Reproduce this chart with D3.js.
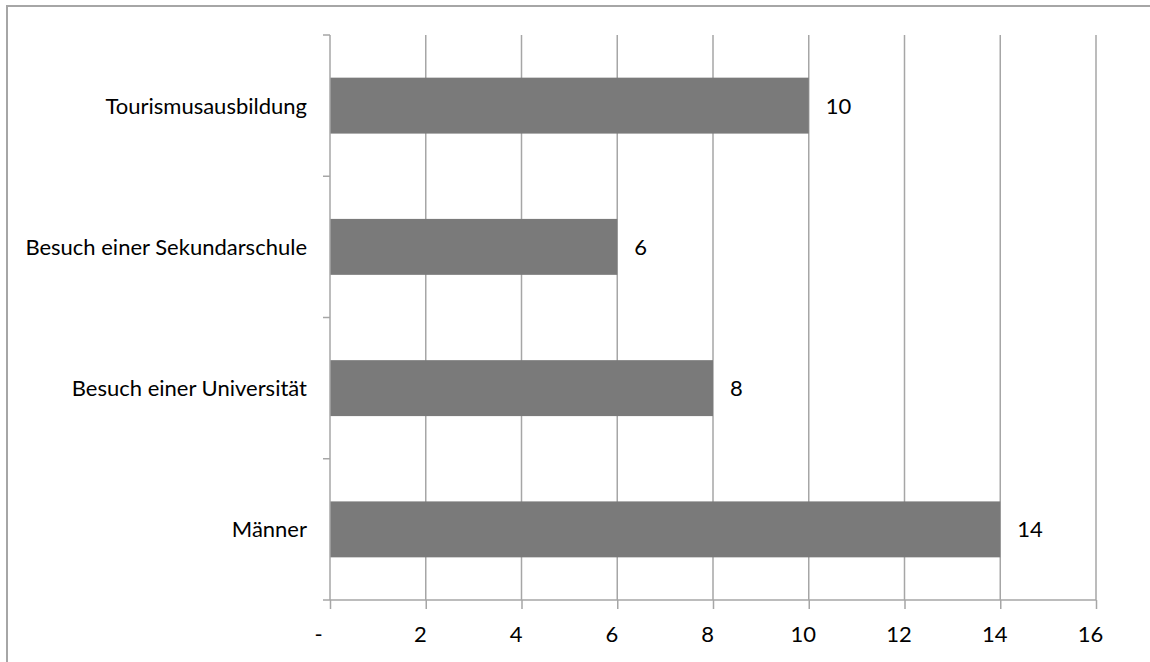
<!DOCTYPE html>
<html>
<head>
<meta charset="utf-8">
<script src="https://cdn.jsdelivr.net/npm/d3@7"></script>
<style>
  html, body { margin: 0; padding: 0; background: #fff; }
  svg { display: block; }
  text { font-family: Lato, "Open Sans", sans-serif; fill: #000; }
</style>
</head>
<body>
<svg id="chart" width="1150" height="662"></svg>
<script>
// Categories from top to bottom and their counts
const categories = ["Tourismusausbildung", "Besuch einer Sekundarschule", "Besuch einer Universität", "Männer"];
const values = [10, 6, 8, 14];
const xTicks = [0, 2, 4, 6, 8, 10, 12, 14, 16];

const W = 1150, H = 662;
const plot = { left: 330, right: 1096, top: 35, bottom: 600 };
const gridColor = "#a6a6a6";
const barColor = "#7a7a7a";
const fontSize = 22;

const svg = d3.select("#chart");

// Outer chart frame (right and bottom edges fall outside the canvas)
svg.append("rect")
  .attr("x", 7).attr("y", 6)
  .attr("width", W + 20).attr("height", H + 20)
  .attr("fill", "none")
  .attr("stroke", gridColor)
  .attr("stroke-width", 2);

const x = d3.scaleLinear().domain([0, 16]).range([plot.left, plot.right]);
const y = d3.scaleBand().domain(categories)
  .range([plot.top, plot.bottom])
  .paddingInner(0.604).paddingOuter(0.302);

// Vertical gridlines
svg.append("g").selectAll("line")
  .data(xTicks.filter(d => d > 0))
  .join("line")
  .attr("x1", d => x(d)).attr("x2", d => x(d))
  .attr("y1", plot.top).attr("y2", plot.bottom)
  .attr("stroke", gridColor).attr("stroke-width", 1.5);

// Bars
svg.append("g").selectAll("rect")
  .data(categories)
  .join("rect")
  .attr("x", x(0))
  .attr("y", d => y(d))
  .attr("width", (d, i) => x(values[i]) - x(0))
  .attr("height", y.bandwidth())
  .attr("fill", barColor);

// Value labels
svg.append("g").selectAll("text")
  .data(categories)
  .join("text")
  .attr("x", (d, i) => x(values[i]) + 17)
  .attr("y", d => y(d) + y.bandwidth() / 2)
  .attr("dy", "0.36em")
  .style("font-size", fontSize + "px")
  .text((d, i) => values[i]);

// X axis
const xAxis = d3.axisBottom(x)
  .tickValues(xTicks)
  .tickSize(9)
  .tickPadding(17)
  .tickFormat(d => d === 0 ? "-" : d);
const gx = svg.append("g")
  .attr("transform", `translate(0,${plot.bottom})`)
  .call(xAxis);
gx.select(".domain").remove();
gx.append("line")
  .attr("x1", plot.left - 7).attr("x2", plot.right)
  .attr("y1", 0).attr("y2", 0)
  .attr("stroke", gridColor).attr("stroke-width", 1.5);
gx.selectAll(".tick line").attr("stroke", gridColor).attr("stroke-width", 1.5);
gx.selectAll(".tick text")
  .style("font-size", fontSize + "px")
  .attr("fill", "#000")
  .attr("dx", d => d === 0 ? -12 : -6);

// Y axis: category boundaries carry the ticks
const boundaries = categories.map(c => y(c) - y.step() * y.paddingInner() / 2);
const gy = svg.append("g");
gy.append("line")
  .attr("x1", plot.left).attr("x2", plot.left)
  .attr("y1", plot.top).attr("y2", plot.bottom)
  .attr("stroke", gridColor).attr("stroke-width", 1.5);
gy.selectAll("line.tk")
  .data([plot.top, ...boundaries.slice(1)])
  .join("line")
  .attr("class", "tk")
  .attr("x1", plot.left - 7).attr("x2", plot.left)
  .attr("y1", d => d).attr("y2", d => d)
  .attr("stroke", gridColor).attr("stroke-width", 1.5);
gy.selectAll("text")
  .data(categories)
  .join("text")
  .attr("x", plot.left - 23)
  .attr("y", d => y(d) + y.bandwidth() / 2)
  .attr("dy", "0.36em")
  .attr("text-anchor", "end")
  .style("font-size", fontSize + "px")
  .text(d => d);
</script>
</body>
</html>
